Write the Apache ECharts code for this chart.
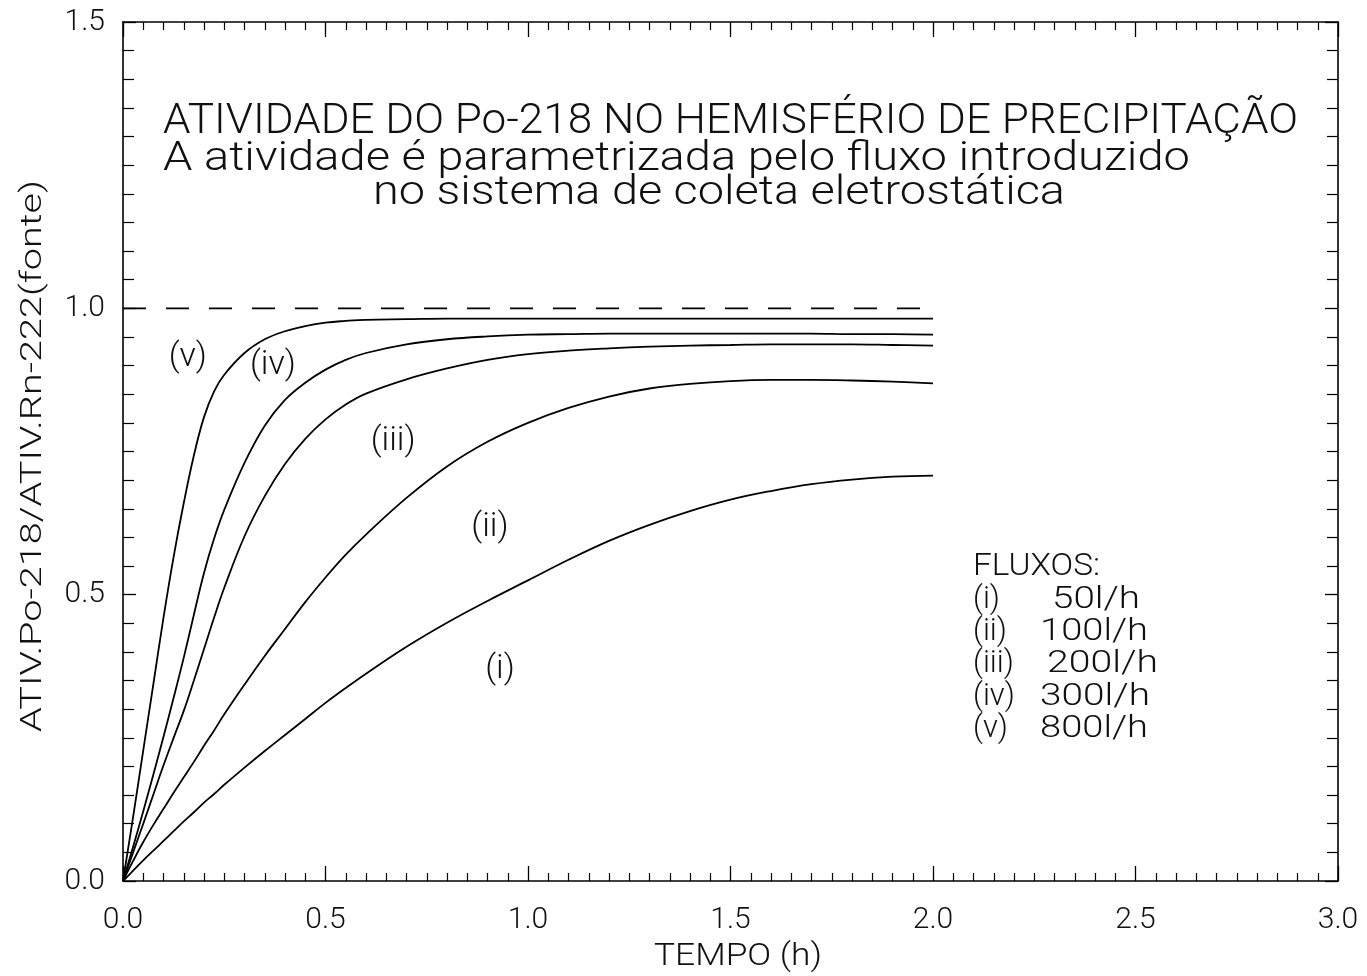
<!DOCTYPE html>
<html><head><meta charset="utf-8">
<script src="https://cdn.jsdelivr.net/npm/echarts@6/dist/echarts.min.js"></script>
<style>html,body{margin:0;padding:0;background:#fff}#c{width:1367px;height:976px}</style>
</head><body><div id="c"></div>
<script>
// ---- data ----
const tempo = [0,0.025,0.05,0.075,0.1,0.125,0.15,0.175,0.2,0.225,0.25,0.3,0.35,0.4,0.45,0.5,0.55,0.6,0.7,0.8,0.9,1.0,1.1,1.2,1.3,1.4,1.5,1.6,1.7,1.8,1.9,2.0];
const fluxo50  = [0,0.018,0.036,0.053,0.070,0.087,0.104,0.120,0.137,0.152,0.168,0.198,0.227,0.255,0.283,0.311,0.337,0.362,0.409,0.451,0.489,0.525,0.561,0.594,0.622,0.646,0.666,0.681,0.693,0.701,0.706,0.708];
const fluxo100 = [0,0.035,0.068,0.098,0.126,0.154,0.181,0.208,0.236,0.263,0.291,0.343,0.393,0.440,0.487,0.530,0.570,0.605,0.669,0.724,0.767,0.800,0.826,0.846,0.860,0.868,0.873,0.875,0.875,0.874,0.872,0.869];
const fluxo200 = [0,0.050,0.100,0.151,0.202,0.250,0.297,0.350,0.405,0.460,0.512,0.602,0.672,0.728,0.772,0.806,0.832,0.851,0.876,0.895,0.910,0.920,0.926,0.930,0.933,0.935,0.936,0.937,0.937,0.937,0.936,0.935];
const fluxo300 = [0,0.060,0.122,0.186,0.252,0.320,0.390,0.465,0.538,0.598,0.648,0.730,0.795,0.840,0.870,0.893,0.910,0.922,0.937,0.946,0.951,0.954,0.955,0.956,0.956,0.956,0.956,0.956,0.956,0.955,0.955,0.954];
const fluxo800 = [0,0.112,0.228,0.344,0.460,0.566,0.660,0.743,0.810,0.855,0.884,0.922,0.946,0.960,0.969,0.975,0.978,0.980,0.981,0.982,0.982,0.982,0.982,0.982,0.982,0.982,0.982,0.982,0.982,0.982,0.982,0.982];
const referencia = [[0,1.0],[2.0,1.0]];
const curveNames = ['(i)','(ii)','(iii)','(iv)','(v)'];
const curveLabelX = [0.931,0.906,0.667,0.37,0.16];
const curveLabelY = [0.37,0.618,0.768,0.90,0.915];
const legendTitle = 'FLUXOS:';
const legendKeys = ['(i)','(ii)','(iii)','(iv)','(v)'];
const legendVals = ['50l/h','100l/h','200l/h','300l/h','800l/h'];
const titleLines = ['ATIVIDADE DO Po-218 NO HEMISFÉRIO DE PRECIPITAÇÃO','A atividade é parametrizada pelo fluxo introduzido','no sistema de coleta eletrostática'];
const xName = 'TEMPO (h)';
const yName = 'ATIV.Po-218/ATIV.Rn-222(fonte)';

// ---- style ----
const FONT = 'Roboto, "Liberation Sans", sans-serif';
const FW = 300;
const INK = '#111';
const ctx = document.createElement('canvas').getContext('2d');
function fit(text, size, target){ ctx.font = FW + ' ' + size + 'px ' + FONT; return target / ctx.measureText(text).width; }
function txt(text, x, y, size, target, extra){
  const o = {type:'text', x:x, y:y, scaleX: target ? fit(text,size,target) : 1,
    style:{text:text, fontSize:size, fontFamily:FONT, fontWeight:FW, fill:INK, textAlign:'left', textVerticalAlign:'middle', align:'left', verticalAlign:'middle'}};
  return Object.assign(o, extra||{});
}

const chart = echarts.init(document.getElementById('c'), null, {renderer:'canvas'});
const zip = arr => tempo.map((t,i)=>[t,arr[i]]);
const series = [fluxo50,fluxo100,fluxo200,fluxo300,fluxo800].map((arr,i)=>({
  type:'line', data: zip(arr), showSymbol:false, smooth:0.4, xAxisIndex:0, yAxisIndex:0,
  lineStyle:{color:'#000', width:1.8}, z:3
}));
series.push({type:'line', data: referencia, showSymbol:false, xAxisIndex:0, yAxisIndex:0,
  lineStyle:{color:'#000', width:1.6, type:[23,20]}, z:2});
series.push({type:'scatter', symbolSize:0, xAxisIndex:0, yAxisIndex:0, itemStyle:{opacity:1},
  data: curveNames.map((n,i)=>({name:n, value:[curveLabelX[i], curveLabelY[i]]})),
  label:{show:true, position:'inside', formatter:p=>p.name, fontSize:34, fontFamily:FONT, fontWeight:FW, color:INK, opacity:1}, z:4});

const axisCommon = {type:'value', min:0, splitLine:{show:false},
  axisLine:{show:true, onZero:false, lineStyle:{color:'#000', width:1.6}},
  axisTick:{show:true, inside:true, lineStyle:{color:'#000', width:1.3}},
  minorTick:{show:true, splitNumber:10, lineStyle:{color:'#000', width:1.2}}};

const graphics = [];
graphics.push(txt(titleLines[0], 163, 122, 42, 1135));
graphics.push(txt(titleLines[1], 163, 160, 41, 1027));
graphics.push(txt(titleLines[2], 373, 194, 41, 692));
graphics.push(txt(xName, 654, 957, 31, 168));
graphics.push({type:'text', x:33, y:456, rotation:Math.PI/2, scaleX: fit(yName,30,552),
  style:{text:yName, fontSize:30, fontFamily:FONT, fontWeight:FW, fill:INK, textAlign:'center', textVerticalAlign:'middle', align:'center', verticalAlign:'middle'}});
graphics.push(txt(legendTitle, 973, 567, 31, 127));
const rowY = [600,632,664,697,729];
const valX = [1052,1040,1047,1040,1040];
const valW = [88,108,111,110,108];
legendKeys.forEach((k,i)=>{
  graphics.push(txt(k, 973, rowY[i], 31));
  graphics.push(txt(legendVals[i], valX[i], rowY[i], 31, valW[i]));
});

chart.setOption({
  animation:false,
  backgroundColor:'#fff',
  grid:{left:123, right:29, top:22, bottom:95},
  xAxis:[
    Object.assign({}, axisCommon, {position:'bottom', max:3, interval:0.5,
      axisTick:Object.assign({}, axisCommon.axisTick, {length:15}),
      minorTick:Object.assign({}, axisCommon.minorTick, {length:8}),
      axisLabel:{show:true, margin:24, fontSize:30, fontFamily:FONT, fontWeight:FW, color:INK, formatter:v=>v.toFixed(1)}}),
    Object.assign({}, axisCommon, {position:'top', max:3, interval:0.5,
      axisTick:Object.assign({}, axisCommon.axisTick, {length:15}),
      minorTick:Object.assign({}, axisCommon.minorTick, {length:8}),
      axisLabel:{show:false}})
  ],
  yAxis:[
    Object.assign({}, axisCommon, {position:'left', max:1.5, interval:0.5,
      axisTick:Object.assign({}, axisCommon.axisTick, {length:13}),
      minorTick:Object.assign({}, axisCommon.minorTick, {length:11}),
      axisLabel:{show:true, margin:18, fontSize:30, fontFamily:FONT, fontWeight:FW, color:INK, formatter:v=>v.toFixed(1)}}),
    Object.assign({}, axisCommon, {position:'right', max:1.5, interval:0.5,
      axisTick:Object.assign({}, axisCommon.axisTick, {length:13}),
      minorTick:Object.assign({}, axisCommon.minorTick, {length:11}),
      axisLabel:{show:false}})
  ],
  series: series,
  graphic: graphics
});
</script></body></html>
